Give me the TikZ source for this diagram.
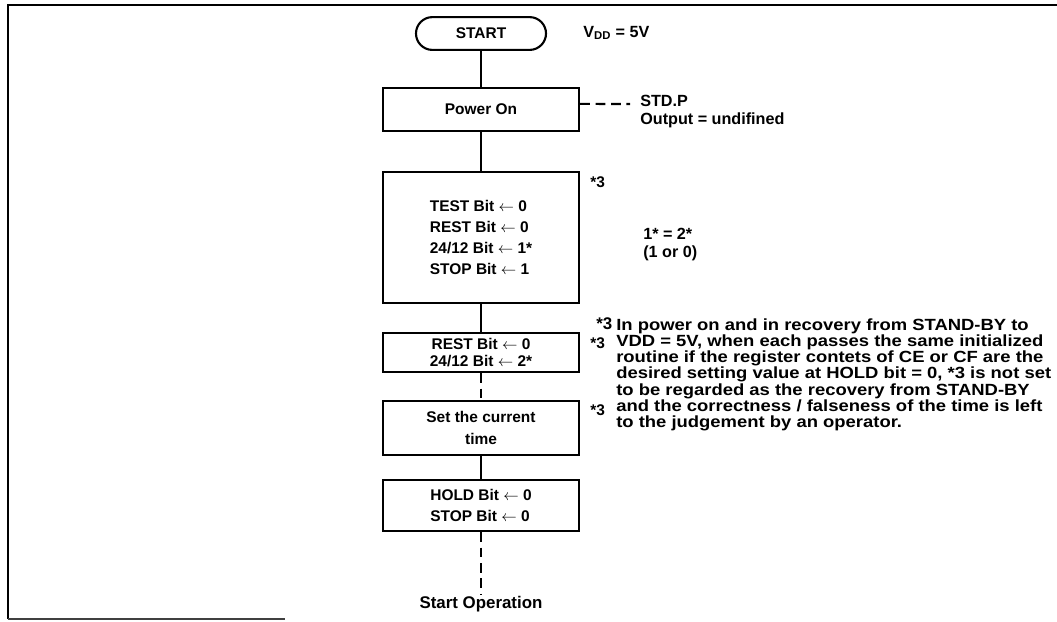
\documentclass[tikz,border=0pt]{standalone}
\usepackage{fontspec}
\setmainfont{Liberation Sans}
\newfontfamily\notefont{Liberation Sans}[FakeStretch=1.14]
\usetikzlibrary{positioning}

\newcommand{\getsbit}{$\leftarrow$}

\tikzset{
  flowbox/.style={draw, line width=1.5pt, minimum width=4.9cm, inner sep=0pt,
    font=\bfseries\fontsize{11}{15}\selectfont},
  termbox/.style={draw, line width=1.5pt, rounded corners=0.41cm, minimum width=3.25cm,
    minimum height=0.82cm, inner sep=0pt, font=\bfseries\fontsize{11}{15}\selectfont},
  flowline/.style={line width=1.8pt},
  brokenline/.style={line width=1.5pt, dash pattern=on 7pt off 4pt},
  sidenote/.style={anchor=west, align=left, inner sep=0pt,
    font=\bfseries\fontsize{11.5}{13}\selectfont},
  starmark/.style={anchor=west, inner sep=0pt, font=\bfseries\fontsize{11}{13}\selectfont},
}

\begin{document}
\begin{tikzpicture}[x=0.025cm, y=-0.025cm]
  \useasboundingbox (0,0) rectangle (1057,621);
  % page frame
  \draw[line width=1.6pt] (1057,5) -- (8,5) -- (8,619);
  \draw[line width=0.8pt, black!75] (8,619) -- (285,619);

  % flow chart
  \node[termbox] (start) at (481,33.5) {START};
  \node[flowbox, minimum height=1.075cm] (power) at (481,109.5) {Power On};
  \node[flowbox, minimum height=3.275cm, align=left] (init) at (481,237.5)
    {TEST Bit \getsbit{} 0\\REST Bit \getsbit{} 0\\24/12 Bit \getsbit{} 1*\\STOP Bit \getsbit{} 1};
  \node[flowbox, minimum height=0.975cm, align=center,
    font=\bfseries\fontsize{11}{12.5}\selectfont] (rest) at (481,352.5)
    {REST Bit \getsbit{} 0\\24/12 Bit \getsbit{} 2*};
  \node[flowbox, minimum height=1.35cm, align=center] (settime) at (481,428)
    {Set the current\\time};
  \node[flowbox, minimum height=1.275cm, align=left] (hold) at (481,505.5)
    {HOLD Bit \getsbit{} 0\\STOP Bit \getsbit{} 0};
  \node[inner sep=1pt, font=\bfseries\fontsize{12}{13}\selectfont] (opstart) at (481,604) {Start Operation};

  \draw[flowline] (start) -- (power);
  \draw[flowline] (power) -- (init);
  \draw[flowline] (init) -- (rest);
  \draw[brokenline] (rest) -- (settime);
  \draw[flowline] (settime) -- (hold);
  \draw[brokenline] (hold) -- (opstart);

  % side notes
  \node[sidenote] (vdd) at (583,33) {V\textsubscript{DD} = 5V};
  \coordinate (stdp) at (630,104);
  \draw[brokenline] ([yshift=0.14cm]power.east) -- (stdp);
  \node[sidenote, anchor=north west] (stdtext) at (640,95) {STD.P\\Output = undifined};
  \node[starmark] (mark1) at (590,182) {*3};
  \node[starmark] (mark2) at (590,343) {*3};
  \node[starmark] (mark3) at (590,410) {*3};
  \node[sidenote, anchor=north west] (eqtext) at (643,228) {1* = 2*\\(1 or 0)};
  \node[starmark, font=\bfseries\fontsize{12}{13}\selectfont] (mark4) at (596,324) {*3};
  \node[sidenote, anchor=north west, font=\notefont\bfseries\fontsize{11.5}{11.6}\selectfont] (footnote) at (616,318)
    {In power on and in recovery from STAND-BY to\\
     VDD = 5V, when each passes the same initialized\\
     routine if the register contets of CE or CF are the\\
     desired setting value at HOLD bit = 0, *3 is not set\\
     to be regarded as the recovery from STAND-BY\\
     and the correctness / falseness of the time is left\\
     to the judgement by an operator.};
\end{tikzpicture}
\end{document}
